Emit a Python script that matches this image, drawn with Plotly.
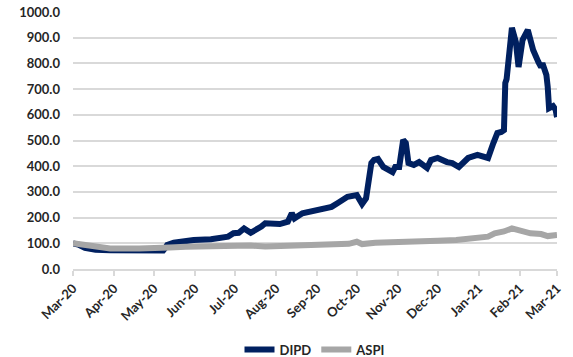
import plotly.graph_objects as go

dipd_dates = ["2020-03-01","2020-03-05","2020-03-10","2020-03-18","2020-03-29","2020-04-20","2020-05-08","2020-05-10",
              "2020-05-11","2020-05-16","2020-05-31","2020-06-13","2020-06-26","2020-06-30","2020-07-04","2020-07-08",
              "2020-07-13","2020-07-21","2020-07-24","2020-08-04","2020-08-10","2020-08-13","2020-08-15","2020-08-21",
              "2020-09-02","2020-09-12","2020-09-17","2020-09-24","2020-10-01","2020-10-05","2020-10-08","2020-10-10",
              "2020-10-12","2020-10-14","2020-10-17","2020-10-21","2020-10-28","2020-10-30",
              "2020-11-02","2020-11-05","2020-11-07","2020-11-09","2020-11-13","2020-11-17","2020-11-23","2020-11-26",
              "2020-12-01","2020-12-08","2020-12-12","2020-12-17","2020-12-24","2020-12-31","2021-01-08","2021-01-12",
              "2021-01-15","2021-01-18","2021-01-20","2021-01-21","2021-01-22","2021-01-26","2021-01-29","2021-01-31",
              "2021-02-03","2021-02-07","2021-02-11","2021-02-15","2021-02-17","2021-02-18","2021-02-21","2021-02-22",
              "2021-02-23","2021-02-26","2021-02-28","2021-03-01"]
dipd_values = [100, 95, 82, 75, 73, 72, 72, 85,
               93, 102, 113, 116, 126, 139, 141, 158,
               141, 165, 178, 175, 184, 217, 197, 217,
               230, 242, 258, 281, 288, 253, 275, 335,
               412, 424, 428, 397, 377, 397,
               397, 502, 490, 412, 405, 416, 393, 424,
               432, 416, 412, 397, 432, 444, 432, 490,
               529, 533, 540, 724, 739, 938, 883, 786,
               891, 930, 852, 805, 786, 801, 755, 708,
               626, 634, 619, 591]

aspi_dates = ["2020-03-01","2020-03-10","2020-03-20","2020-03-29","2020-04-20","2020-05-08","2020-05-13","2020-05-25",
              "2020-06-10","2020-06-28","2020-07-13","2020-07-24","2020-08-10","2020-08-25","2020-09-10","2020-09-25",
              "2020-10-01","2020-10-05","2020-10-15","2020-10-28","2020-11-05","2020-11-20","2020-12-01","2020-12-15",
              "2020-12-31","2021-01-08","2021-01-13","2021-01-20","2021-01-26","2021-01-29","2021-02-02","2021-02-09",
              "2021-02-17","2021-02-22","2021-03-01"]
aspi_values = [100, 92, 84, 80, 80, 80, 84, 87,
               90, 92, 91, 88, 90, 93, 95, 98,
               106, 97, 102, 103, 108, 108, 110, 113,
               120, 126, 139, 146, 158, 153, 145, 139,
               136, 128, 132]

tick_dates = ["2020-03-01","2020-04-01","2020-05-01","2020-06-01","2020-07-01","2020-08-01","2020-09-01",
              "2020-10-01","2020-11-01","2020-12-01","2021-01-01","2021-02-01","2021-03-01"]
tick_labels = ["Mar-20","Apr-20","May-20","Jun-20","Jul-20","Aug-20","Sep-20","Oct-20","Nov-20","Dec-20",
               "Jan-21","Feb-21","Mar-21"]
y_ticks = [0, 100, 200, 300, 400, 500, 600, 700, 800, 900, 1000]

font_family = "Lato, Liberation Sans, Arial, sans-serif"
text_color = "#262626"

fig = go.Figure()
fig.add_trace(go.Scatter(x=dipd_dates, y=dipd_values, mode="lines", name="<b>DIPD</b>",
                         line=dict(color="#002060", width=6)))
fig.add_trace(go.Scatter(x=aspi_dates, y=aspi_values, mode="lines", name="<b>ASPI</b>",
                         line=dict(color="#A6A6A6", width=6)))

fig.update_layout(
    width=573, height=357,
    margin=dict(l=73, r=16, t=12, b=88, autoexpand=False),
    paper_bgcolor="white", plot_bgcolor="white",
    font=dict(family=font_family, size=13, color=text_color),
    showlegend=True,
    legend=dict(orientation="h", x=0.5, xanchor="center", y=-0.255, yanchor="top",
                font=dict(size=13, color=text_color, family=font_family)),
)
fig.update_xaxes(type="date", range=["2020-03-01", "2021-03-01"], automargin=False,
                 tickmode="array", tickvals=tick_dates, ticktext=[f"<b>{t}</b>" for t in tick_labels],
                 tickangle=-45, tickfont=dict(size=13, family=font_family, color=text_color),
                 showgrid=False, showline=True, linecolor="#D9D9D9", linewidth=1.5,
                 ticks="outside", tickcolor="#D9D9D9", ticklen=5, tickwidth=1.5, zeroline=False)
fig.update_yaxes(range=[0, 1000], automargin=False, tickmode="array", tickvals=y_ticks,
                 ticktext=[f"<b>{v:.1f}</b>" for v in y_ticks],
                 tickfont=dict(size=13, family=font_family, color=text_color),
                 showgrid=True, gridcolor="#D9D9D9", gridwidth=1.5, zeroline=False,
                 ticks="", ticklabelstandoff=12)

fig.write_html("out.html")
